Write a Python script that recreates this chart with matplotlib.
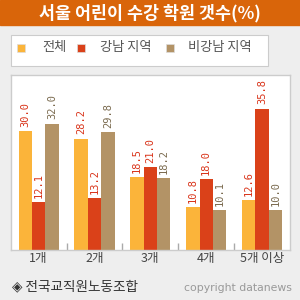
import matplotlib
matplotlib.use('Agg')
import matplotlib.pyplot as plt
import numpy as np

plt.rcParams['font.family'] = ['Noto Sans CJK KR', 'DejaVu Sans']

# data
categories = ['1개', '2개', '3개', '4개', '5개 이상']
series_names = ['전체', '강남 지역', '비강남 지역']
total = [30.0, 28.2, 18.5, 10.8, 12.6]
gangnam = [12.1, 13.2, 21.0, 18.0, 35.8]
non_gangnam = [32.0, 29.8, 18.2, 10.1, 10.0]

colors = ['#FBB43A', '#DA4119', '#B39366']
label_colors = ['#D9341A', '#D9341A', '#7A6A4E']
bg = '#EEEEEE'
title_bg = '#D9650A'

fig = plt.figure(figsize=(3, 3), dpi=100, facecolor=bg)

# title bar
fig.patches.append(plt.Rectangle((0, 1 - 25 / 300), 1, 25 / 300, transform=fig.transFigure,
                                 color=title_bg, zorder=0))
fig.text(0.5, 1 - 13 / 300, '서울 어린이 수강 학원 갯수(%)', color='white',
         fontsize=12.5, fontweight='bold', ha='center', va='center')

# legend box
fig.patches.append(plt.Rectangle((10.7 / 300, 1 - 66 / 300), (268 - 10.7) / 300, 31 / 300,
                                 transform=fig.transFigure, facecolor='white',
                                 edgecolor='#CCCCCC', linewidth=0.8, zorder=0))
leg_y = 1 - 48 / 300
marker_x = [17, 77, 166]
text_x = [42, 100, 188]
for mx, tx, c, name in zip(marker_x, text_x, colors, series_names):
    fig.patches.append(plt.Rectangle((mx / 300, leg_y - 4 / 300), 8 / 300, 8 / 300,
                                     transform=fig.transFigure, facecolor=c,
                                     edgecolor='#DDDDDD', linewidth=0.5))
    fig.text(tx / 300, leg_y, name, color='#555555', fontsize=9.5, va='center', ha='left')

# plot area
ax = fig.add_axes([10.7 / 300, 50 / 300, (290 - 10.7) / 300, 175 / 300])
ax.set_facecolor('white')
for s in ax.spines.values():
    s.set_color('#CCCCCC')
    s.set_linewidth(1)

x = np.arange(len(categories))
w = 0.24
for i, (vals, c, lc) in enumerate(zip([total, gangnam, non_gangnam], colors, label_colors)):
    xs = x + (i - 1) * w
    ax.bar(xs, vals, width=w, color=c, linewidth=0)
    for xi, v in zip(xs, vals):
        ax.annotate(f'{v:.1f}', (xi, v), xytext=(0, 3), textcoords='offset points',
                    rotation=90, ha='center', va='bottom', color=lc,
                    fontsize=7.5, family='DejaVu Sans Mono')

ax.set_xlim(-0.5, len(categories) - 0.5)
ax.set_ylim(0, 44.3)
ax.set_yticks([])
ax.set_xticks(x)
ax.set_xticklabels(categories, fontsize=9, color='#444444')
ax.tick_params(axis='x', length=0, pad=1.5)
ax.set_xticks(x[:-1] + 0.5, minor=True)
ax.tick_params(axis='x', which='minor', direction='in', length=5, color='#AAAAAA', width=1)

# footer
fig.text(12 / 300, 1 - 286 / 300, '◈ 전국교직원노동조합', color='#333333', fontsize=9.8,
         va='center', ha='left')
fig.text(292 / 300, 1 - 288 / 300, 'copyright datanews', color='#999999', fontsize=7.8,
         va='center', ha='right', family='DejaVu Sans')

fig.savefig('out.png', dpi=100, facecolor=bg)
